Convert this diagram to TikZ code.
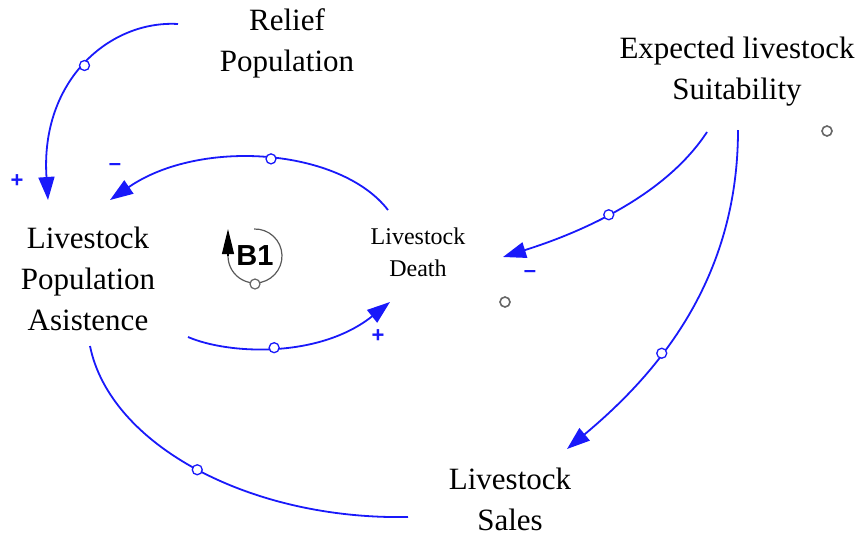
\documentclass[tikz,border=0pt]{standalone}
\usepackage{fontspec}
\setmainfont{Liberation Serif}
\setsansfont{Liberation Sans}
\usetikzlibrary{arrows.meta}
\definecolor{linkblue}{RGB}{25,25,250}
\begin{document}
\begin{tikzpicture}[x=1pt,y=-1pt,
 link/.style={linkblue,line width=1.8pt},
 tip/.style={-{Triangle[length=23pt,width=16pt]}},
 hole/.style={circle,draw=linkblue,fill=white,line width=1.3pt,inner sep=0pt,minimum size=10pt},
 ghost/.style={circle,draw=black!60,fill=white,line width=1.6pt,inner sep=0pt,minimum size=10pt},
 var/.style={align=center,font=\fontsize{31}{41}\selectfont},
 sgn/.style={linkblue,inner sep=0pt,font=\sffamily\bfseries\fontsize{22}{22}\selectfont}]
\useasboundingbox (0,0) rectangle (860,536);
\path (287,43) node[var] (RP) {Relief\\Population}
 (737,72) node[var] (ELS) {Expected livestock\\Suitability}
 (88,279) node[var] (LPA) {Livestock\\Population\\Asistence}
 (418,252) node[var,font=\fontsize{24}{32}\selectfont] (LD) {Livestock\\Death}
 (510,499) node[var] (LS) {Livestock\\Sales};
% links
\draw[link,tip] ([shift={(-109,-19)}]RP.center) .. controls +(-68,-4) and +(-8,-120) .. ([shift={(-40,-79)}]LPA.center) node[hole,pos=.5] (h1) {};
\draw[link,tip] ([shift={(-30,-42)}]LD.center) .. controls +(-48,-62) and +(90,-62) .. ([shift={(22,-79)}]LPA.center) node[hole,pos=.48] (h2) {};
\draw[link,tip] ([shift={(100,58)}]LPA.center) .. controls +(42,18) and +(-70,56) .. ([shift={(-28,50)}]LD.center) node[hole,pos=.48] (h3) {};
\draw[link] ([shift={(2,67)}]LPA.center) .. controls +(20,99) and +(-158,3) .. ([shift={(-102,18)}]LS.center) node[hole,pos=.5] (h4) {};
\draw[link,tip] ([shift={(-30,60)}]ELS.center) .. controls +(-47,72) and +(57,-18) .. ([shift={(85,5)}]LD.center) node[hole,pos=.5] (h5) {};
\draw[link,tip] ([shift={(1,58)}]ELS.center) .. controls +(0,150) and +(90,-75) .. ([shift={(57,-50)}]LS.center) node[hole,pos=.62] (h6) {};
\foreach \p/\s/\n in {{17,181}/+/s1, {115,167}/--/s2, {378,336}/+/s3, {530,274}/--/s4}
 \node[sgn] (\n) at (\p) {\s};
% loop mark
\coordinate (loop) at (255,256);
\node[font=\sffamily\bfseries\fontsize{29}{29}\selectfont] (B1) at ([shift={(0,0)}]loop) {B1};
\draw[black!65,line width=1.2pt] (loop) ++(-92:27) arc[start angle=-92,end angle=180,radius=27];
\draw[black,line width=1.2pt,-{Triangle[length=25pt,width=12pt]}] ([shift={(180:27)}]loop) -- ++(0,-27);
\node[ghost,line width=1.2pt] (g0) at ([shift={(90:28)}]loop) {};
\node[ghost] (g1) at (827,131) {};
\node[ghost] (g2) at (505,302) {};
\end{tikzpicture}
\end{document}
